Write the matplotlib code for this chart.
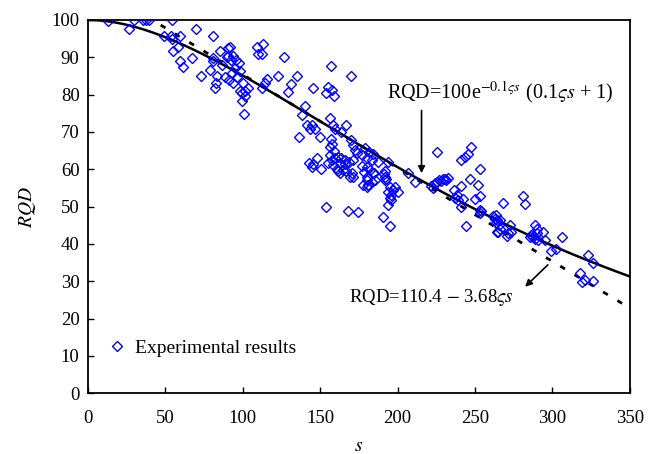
import numpy as np
import matplotlib.pyplot as plt

plt.rcParams['font.family'] = ['Liberation Serif', 'DejaVu Serif']
plt.rcParams['mathtext.fontset'] = 'stix'

# Experimental points (s, RQD)
s_exp = [13.1, 26.7, 29.9, 35.7, 37.5, 39.2, 54.4, 49.1, 53.6, 69.7, 80.9, 54.0, 59.4,
         58.3, 55.1, 67.2, 59.4, 61.5, 73.0, 80.5, 80.9, 85.2, 90.6, 89.6, 78.8, 83.1,
         82.7, 81.8, 88.5, 86.3,
         91.7, 109.0, 113.2, 110.0, 112.6, 126.8,
         90.5, 92.2, 93.9, 95.6, 97.3, 94.7, 98.2, 93.1, 96.4, 91.0, 93.9,
         100.3, 98.2, 101.4, 103.5, 99.3, 101.4, 99.3, 101.0,
         112.2, 114.3, 115.4, 122.9, 131.1, 129.4, 134.8, 145.1, 156.9, 169.8,
         154.8, 157.8, 154.1, 159.1, 140.1, 138.0, 141.2, 143.4, 144.9, 146.6,
         136.5, 149.8, 156.3, 158.4, 159.5, 166.4, 163.4,
         156.9, 157.8, 156.3, 159.1, 169.8, 171.3, 172.4, 173.5, 176.8, 180.0,
         147.7, 145.5, 142.7, 144.9, 150.5,
         156.3, 157.4, 159.5, 161.7, 163.8, 166.0, 155.2, 158.4, 162.7, 166.0,
         168.6, 171.3, 160.6, 164.9, 167.0, 170.3, 162.7, 169.2, 171.3, 161.7,
         176.8, 178.4, 180.0, 177.8, 180.0, 181.0,
         153.5, 168.1, 174.2,
         179.0, 181.5, 184.0, 187.5, 183.2, 193.9,
         180.0, 182.0, 184.2, 185.3, 180.0, 181.0, 183.2,
         191.8, 191.8, 191.8, 192.5, 191.0,
         195.0, 198.3, 193.9, 197.2, 200.4, 196.1, 195.0, 196.1, 193.9,
         190.7, 195.0, 184.9, 206.8, 211.2, 225.8,
         221.9, 223.0, 224.5, 225.5, 226.8, 228.0, 229.2, 230.4, 231.4, 232.3,
         236.6, 238.1, 237.0, 241.3, 243.5, 245.6, 247.3, 240.9,
         239.1, 242.4, 241.3, 246.7, 252.0, 253.2, 250.0, 253.2, 244.1,
         253.2, 254.2, 253.2, 261.7, 262.8, 263.9, 265.0, 266.1,
         268.2, 281.1, 282.6, 263.5, 264.5, 265.5, 266.0, 264.0,
         272.5, 273.6, 270.4, 271.4,
         288.7, 289.8, 286.5, 287.6, 285.4, 288.7, 290.8, 294.0, 295.1, 289.8,
         306.3, 299.4, 302.6, 323.1, 326.3, 317.7, 319.2, 321.0, 326.3]
rqd_exp = [99.7, 97.5, 100.0, 100.0, 100.0, 100.0, 100.0, 95.8, 95.8, 97.6, 95.8, 94.9, 95.8,
           92.7, 91.7, 89.9, 88.9, 87.5, 85.0, 89.9, 88.9, 91.7, 92.4, 90.2, 86.6, 85.0,
           83.1, 81.8, 84.8, 87.9,
           92.7, 92.7, 93.6, 90.9, 90.9, 90.0,
           90.3, 89.4, 90.3, 89.4, 88.5, 87.2, 86.3, 85.7, 84.8, 83.9, 83.0,
           83.0, 81.0, 81.0, 81.7, 80.4, 79.5, 78.2, 74.9,
           81.7, 83.0, 84.3, 85.0, 82.8, 80.8, 85.0, 81.7, 87.8, 85.0,
           82.0, 81.2, 80.3, 79.5, 76.9, 74.5, 71.8, 70.7, 71.8, 70.7,
           68.7, 68.7, 73.6, 71.8, 70.7, 71.8, 70.0,
           68.0, 66.9, 65.9, 65.0, 67.8, 66.5, 65.1, 64.3, 63.8, 62.9,
           62.9, 61.4, 61.7, 60.7, 60.0,
           63.8, 62.5, 62.9, 63.2, 62.9, 62.5, 61.6, 61.1, 61.6, 61.4,
           62.0, 62.5, 60.2, 59.8, 59.4, 58.9, 58.9, 58.0, 58.0, 59.4,
           60.9, 59.3, 58.0, 55.8, 55.3, 55.8,
           49.8, 48.9, 48.6,
           65.7, 64.5, 64.0, 62.0, 62.5, 62.0,
           60.7, 59.8, 58.9, 57.1, 57.1, 55.8, 56.6,
           59.4, 58.0, 57.0, 57.5, 58.6,
           55.3, 55.3, 54.0, 54.4, 54.0, 53.1, 52.2, 51.7, 50.4,
           47.1, 44.8, 59.1, 58.9, 56.6, 64.7,
           55.6, 55.0, 56.2, 56.6, 57.0, 56.8, 57.3, 57.5, 57.0, 57.7,
           54.4, 53.1, 52.4, 62.6, 63.4, 64.1, 66.0, 55.5,
           51.7, 51.9, 49.9, 57.5, 55.8, 60.0, 51.9, 52.8, 44.8,
           49.2, 48.9, 48.2, 47.5, 46.8, 45.5, 43.2, 46.4,
           50.9, 52.9, 50.7, 47.7, 46.5, 45.0, 44.0, 43.2,
           45.0, 43.2, 42.1, 42.8,
           45.0, 44.1, 42.4, 41.9, 41.9, 41.4, 41.0, 43.1, 41.0, 42.8,
           41.9, 38.1, 38.7, 37.0, 34.9, 32.3, 29.8, 30.3, 30.1]

# fitted parameters
zeta = 0.068
s_fit = np.linspace(0, 350, 400)
rqd_exp_fit = 100 * np.exp(-0.1 * zeta * s_fit) * (0.1 * zeta * s_fit + 1)
s_lin = np.linspace(47, 350, 100)
rqd_lin_fit = 110.4 - 3.68 * zeta * s_lin

fig = plt.figure(figsize=(6.56, 4.54), dpi=100)
ax = fig.add_axes([0.134, 0.134, 0.826, 0.822])

ax.plot(s_exp, rqd_exp, linestyle='none', marker='D', markersize=5.5,
        markerfacecolor='none', markeredgecolor='#0000ff', markeredgewidth=1.0,
        label='Experimental results', zorder=3)
ax.plot(s_fit, rqd_exp_fit, color='black', lw=1.8, zorder=2)
ax.plot(s_lin, rqd_lin_fit, color='black', lw=2.0, dashes=(2.0, 4.0), zorder=2)

ax.set_xlim(0, 350)
ax.set_ylim(0, 100)
ax.set_xticks(np.arange(0, 351, 50))
ax.set_yticks(np.arange(0, 101, 10))
ax.tick_params(direction='in', length=4, width=1, labelsize=13.5,
               top=False, right=False)
ax.tick_params(axis='x', pad=12)
ax.tick_params(axis='y', pad=6)
for sp in ax.spines.values():
    sp.set_linewidth(1.3)

ax.set_xlabel('$s$', fontsize=14, labelpad=8)
ax.set_ylabel('$RQD$', fontsize=14, labelpad=10)

ax.annotate('', xy=(215.5, 58.2), xytext=(215.5, 76.5),
            arrowprops=dict(arrowstyle='-|>', color='black', lw=1.2,
                            mutation_scale=10))
ax.text(266, 80.7, r'RQD=100e$^{-0.1\varsigma s}$ (0.1$\varsigma s$ + 1)',
        fontsize=14.5, ha='center', va='center')

ax.annotate('', xy=(281.1, 28.0), xytext=(298.4, 34.9),
            arrowprops=dict(arrowstyle='-|>', color='black', lw=1.2,
                            mutation_scale=10))
ax.text(222, 25.7, r'RQD=110.4 $-$ 3.68$\varsigma s$',
        fontsize=13.5, ha='center', va='center')

ax.legend(loc='lower left', bbox_to_anchor=(0.0, 0.05), frameon=False,
          fontsize=14, handletextpad=0.3, handlelength=1.2)

fig.savefig('out.png', dpi=100)
